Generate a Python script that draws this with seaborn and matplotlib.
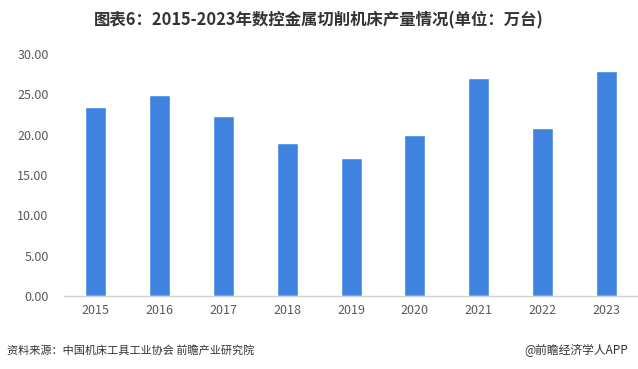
import matplotlib
matplotlib.use("Agg")
import matplotlib.pyplot as plt
import seaborn as sns
import pandas as pd

# data (unit: 万台)
years = ["2015", "2016", "2017", "2018", "2019", "2020", "2021", "2022", "2023"]
output = [23.4, 24.9, 22.3, 19.0, 17.1, 19.9, 27.0, 20.8, 27.9]
y_ticks = [0, 5, 10, 15, 20, 25, 30]

title = "图表6：2015-2023年数控金属切削机床产量情况(单位：万台)"
source = "资料来源：中国机床工具工业协会 前瞻产业研究院"
credit = "@前瞻经济学人APP"

sns.set_style("white")
plt.rcParams["font.family"] = ["Noto Sans CJK SC", "DejaVu Sans"]

df = pd.DataFrame({"year": years, "output": output})

fig = plt.figure(figsize=(6.38, 3.69), dpi=100)
ax = fig.add_axes([0.1003, 0.198, 0.9, 0.656])

sns.barplot(data=df, x="year", y="output", color="#3F83E0", width=0.33,
            saturation=1, ax=ax)

ax.set_xlim(-0.5, len(years) - 0.5)
ax.set_ylim(0, 30)
ax.set_yticks(y_ticks)
ax.set_yticklabels([f"{v:.2f}" for v in y_ticks])
ax.set_xlabel("")
ax.set_ylabel("")
ax.tick_params(axis="both", length=0, labelsize=9, labelcolor="#595959")
ax.tick_params(axis="y", pad=11)
ax.tick_params(axis="x", pad=6)

for side in ["top", "right", "left"]:
    ax.spines[side].set_visible(False)
ax.spines["bottom"].set_color("#d0d0d0")
ax.spines["bottom"].set_linewidth(1)

fig.text(0.5, 0.945, title, ha="center", va="center", fontsize=11.8,
         fontweight="bold", color="#333333")
fig.text(0.011, 0.05, source, ha="left", va="center", fontsize=8,
         color="#333333")
fig.text(0.984, 0.05, credit, ha="right", va="center", fontsize=8.5,
         color="#333333")

fig.savefig("out.png", dpi=100)
